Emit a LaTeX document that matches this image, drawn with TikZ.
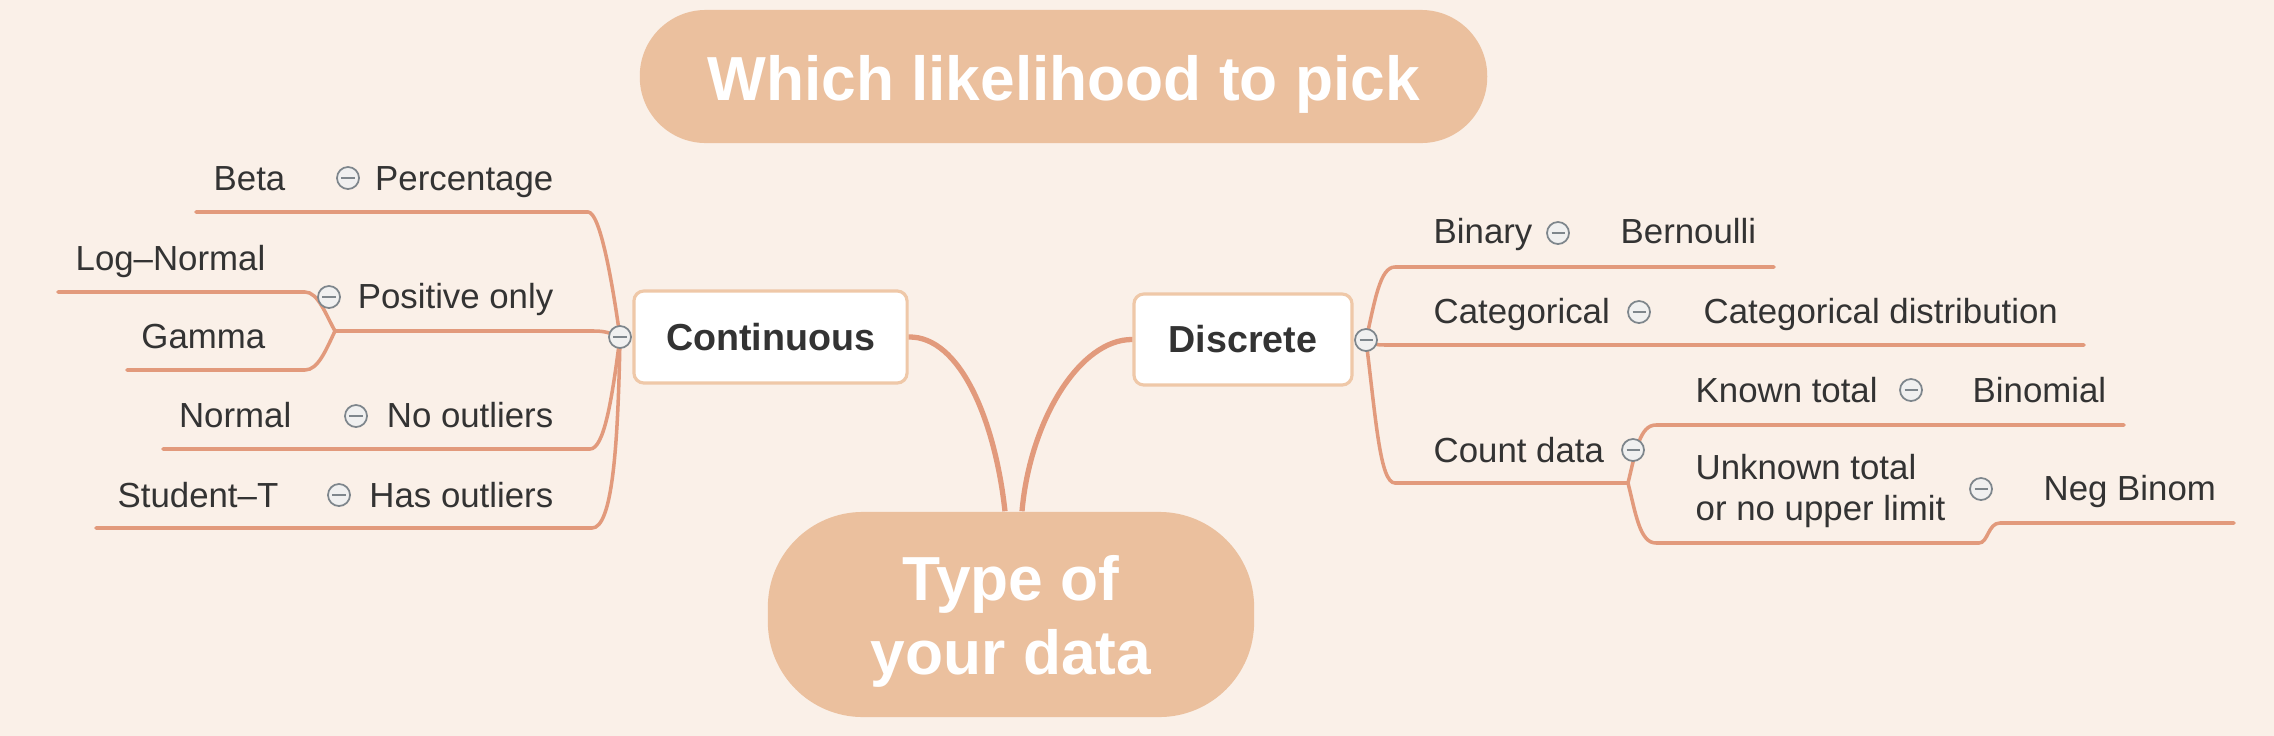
\documentclass[tikz,border=0pt]{standalone}
\usepackage{fontspec}
\setmainfont{Liberation Sans}
\usepackage{tikz}

\definecolor{paper}{HTML}{FAF0E8}
\definecolor{pill}{HTML}{EBC09E}
\definecolor{branch}{HTML}{E29A7C}
\definecolor{rim}{HTML}{EFC8A8}
\definecolor{ink}{HTML}{333333}
\definecolor{knobrim}{HTML}{7E868C}

\begin{document}
\begin{tikzpicture}[x=0.01cm,y=-0.01cm,
        font=\fontsize{9.9}{11.4}\selectfont,
        text=ink,
        pillbox/.style={fill=pill,text=white,inner sep=0pt,
            font=\fontsize{17.7}{20.8}\selectfont\bfseries},
        topic/.style={draw=rim,fill=white,line width=0.9pt,rounded corners=0.1cm,
            inner sep=0pt,font=\fontsize{10.7}{13}\selectfont\bfseries},
        knob/.style={circle,draw=knobrim,fill=black!6,line width=0.5pt,
            minimum size=0.22cm,inner sep=0pt,
            path picture={\draw[knobrim,line width=0.6pt]
                ([xshift=-0.065cm]path picture bounding box.center) --
                ([xshift=0.065cm]path picture bounding box.center);}},
        twig/.style={draw=branch,line width=1pt,line cap=round},
        trunk/.style={draw=branch,line width=1.5pt},
    ]
    \fill[paper] (0,0) rectangle (2274,736);
    \useasboundingbox (0,0) rectangle (2274,736);

    % where the branches fork
    \coordinate (kc) at (620,337);
    \coordinate (kd) at (1366,340);
    \coordinate (jpos) at (335,331);
    \coordinate (jcnt) at (1628,483);
    % free ends of the branches
    \coordinate (betaend) at (196,212);
    \coordinate (lognend) at (58,292);
    \coordinate (gammaend) at (127,370);
    \coordinate (normend) at (163,449);
    \coordinate (studend) at (96,528);
    \coordinate (bernend) at (1774,267);
    \coordinate (catend) at (2084,345);
    \coordinate (binend) at (2124,425);
    \coordinate (negend) at (2234,523);

    % continuous side
    \draw[twig] (kc) .. controls (612,280) and (600,212) .. (588,212) -- (betaend);
    \draw[twig] (kc) .. controls (610,333) and (605,331) .. (594,331) -- (jpos);
    \draw[twig] (jpos) .. controls (326,315) and (318,292) .. (305,292) -- (lognend);
    \draw[twig] (jpos) .. controls (326,350) and (318,370) .. (305,370) -- (gammaend);
    \draw[twig] (kc) .. controls (612,400) and (604,449) .. (590,449) -- (normend);
    \draw[twig] (kc) .. controls (618,450) and (612,528) .. (592,528) -- (studend);
    % discrete side
    \draw[twig] (kd) .. controls (1375,300) and (1380,267) .. (1395,267) -- (bernend);
    \draw[twig] (kd) .. controls (1372,344) and (1376,345) .. (1385,345) -- (catend);
    \draw[twig] (kd) .. controls (1376,420) and (1380,483) .. (1395,483) -- (jcnt);
    \draw[twig] (jcnt) .. controls (1636,450) and (1640,425) .. (1656,425) -- (binend);
    \draw[twig] (jcnt) .. controls (1636,515) and (1640,543) .. (1656,543) -- (1979,543)
        .. controls (1988,543) and (1988,523) .. (2000,523) -- (negend);

    \node[knob] (kcknob) at (kc) {};
    \node[knob] (kdknob) at (kd) {};
    \node[knob] (kperc) at (348,178) {};
    \node[knob] (kpos) at (329,297) {};
    \node[knob] (knoout) at (356,416) {};
    \node[knob] (khasout) at (339,495) {};
    \node[knob] (kbin) at (1558,233) {};
    \node[knob] (kcat) at (1639,312) {};
    \node[knob] (kcount) at (1633,450) {};
    \node[knob] (kknown) at (1911,390) {};
    \node[knob] (kunknown) at (1981,489) {};

    % left labels
    \node[anchor=base east,inner sep=0pt] (beta) at (286,190) {Beta};
    \node[anchor=base east,inner sep=0pt] (perc) at (554,190) {Percentage};
    \node[anchor=base east,inner sep=0pt] (logn) at (266,270) {Log--Normal};
    \node[anchor=base east,inner sep=0pt] (pos) at (554,308) {Positive only};
    \node[anchor=base east,inner sep=0pt] (gamma) at (266,348) {Gamma};
    \node[anchor=base east,inner sep=0pt] (norm) at (292,427) {Normal};
    \node[anchor=base east,inner sep=0pt] (noout) at (554,427) {No outliers};
    \node[anchor=base east,inner sep=0pt] (stud) at (279,507) {Student--T};
    \node[anchor=base east,inner sep=0pt] (hasout) at (554,507) {Has outliers};
    % right labels
    \node[anchor=base west,inner sep=0pt] (bin) at (1433,243) {Binary};
    \node[anchor=base west,inner sep=0pt] (bern) at (1620,243) {Bernoulli};
    \node[anchor=base west,inner sep=0pt] (cat) at (1433,323) {Categorical};
    \node[anchor=base west,inner sep=0pt] (catdist) at (1703,323) {Categorical distribution};
    \node[anchor=base west,inner sep=0pt] (count) at (1433,462) {Count data};
    \node[anchor=base west,inner sep=0pt] (known) at (1695,402) {Known total};
    \node[anchor=base west,inner sep=0pt] (binom) at (1972,402) {Binomial};
    \node[anchor=base west,inner sep=0pt,align=left] (unknown) at (1695,520)
        {Unknown total\\or no upper limit};
    \node[anchor=base west,inner sep=0pt] (negbin) at (2043,500) {Neg Binom};

    \node[pillbox,minimum width=8.47cm,minimum height=1.33cm,rounded corners=0.66cm,
        text height=0.47cm,text depth=0cm] (title) at (1063.5,76.5) {Which likelihood to pick};
    \node[pillbox,minimum width=4.86cm,minimum height=2.05cm,rounded corners=0.95cm,
        align=center,text height=1.32cm,text depth=0.13cm] (type) at (1011,614.5) {Type of\\your data};
    \node[topic,minimum width=2.73cm,minimum height=0.92cm] (cont) at (770.5,337) {Continuous};
    \node[topic,minimum width=2.18cm,minimum height=0.91cm] (disc) at (1243,339.5) {Discrete};

    \draw[trunk] (cont.east) .. controls (960,336) and (995,420) .. ([xshift=-0.06cm]type.north);
    \draw[trunk] (disc.west) .. controls (1080,339) and (1030,420) .. ([xshift=0.11cm]type.north);
\end{tikzpicture}
\end{document}
